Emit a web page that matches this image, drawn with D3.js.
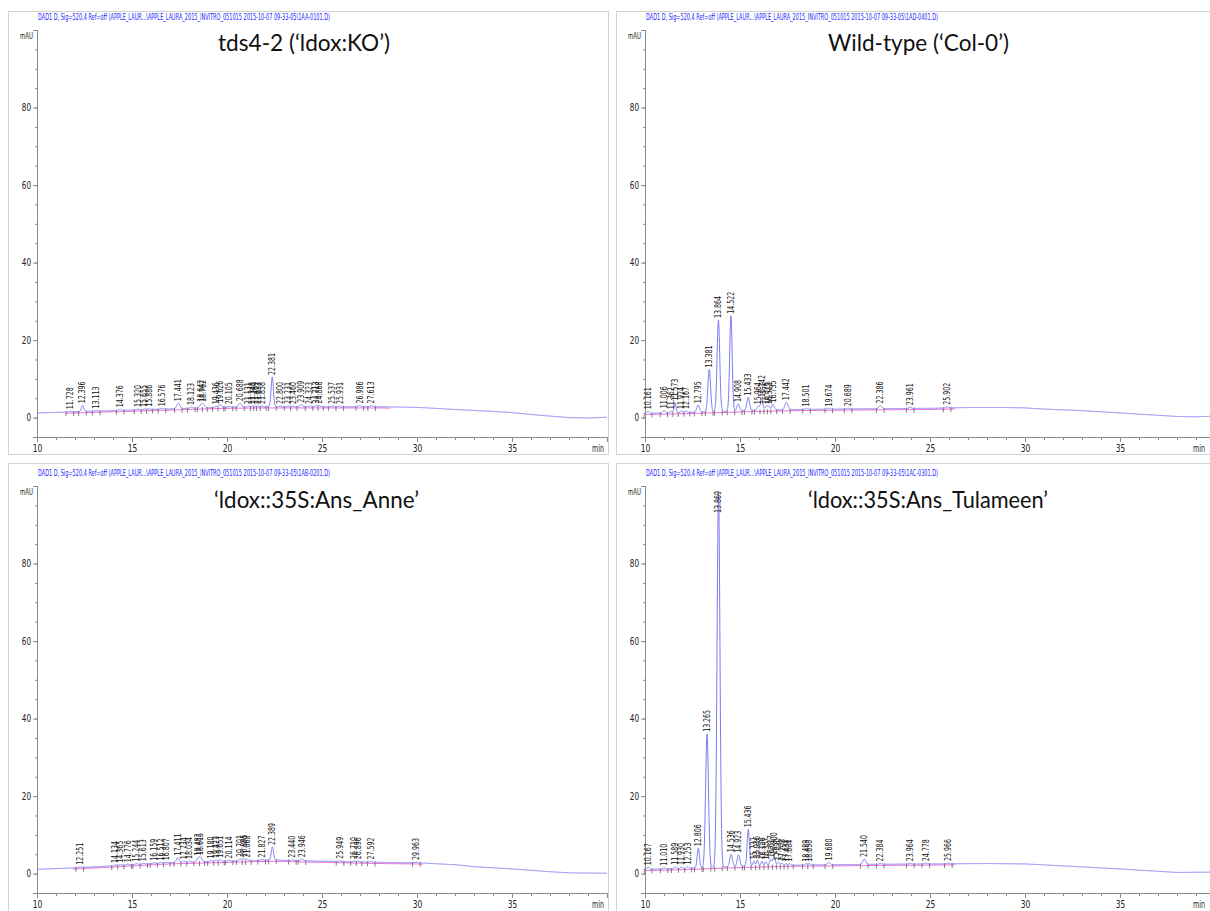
<!DOCTYPE html>
<html>
<head>
<meta charset="utf-8">
<script src="https://cdn.jsdelivr.net/npm/d3@7"></script>
<style>
  html, body { margin: 0; padding: 0; background: #fff; }
  svg { display: block; }
</style>
</head>
<body>
<svg id="chart" width="1210" height="911"></svg>
<script>
// ---- axis ticks ----
const xMajorTicks = [10, 15, 20, 25, 30, 35];
const xMinorTicks = d3.range(10, 41, 1);
const yMajorTicks = [0, 20, 40, 60, 80];
const yMinorTicks = d3.range(-5, 100, 5);

// ---- signal description lines and sample names ----
const headerLines = [
  "DAD1 D, Sig=520,4 Ref=off (APPLE_LAUR...\\APPLE_LAURA_2015_INVITRO_051015 2015-10-07 09-33-05\\1AA-0101.D)",
  "DAD1 D, Sig=520,4 Ref=off (APPLE_LAUR...\\APPLE_LAURA_2015_INVITRO_051015 2015-10-07 09-33-05\\1AD-0401.D)",
  "DAD1 D, Sig=520,4 Ref=off (APPLE_LAUR...\\APPLE_LAURA_2015_INVITRO_051015 2015-10-07 09-33-05\\1AB-0201.D)",
  "DAD1 D, Sig=520,4 Ref=off (APPLE_LAUR...\\APPLE_LAURA_2015_INVITRO_051015 2015-10-07 09-33-05\\1AC-0301.D)"
];
const sampleTitles = [
  "tds4-2 (\u2018ldox:KO\u2019)",
  "Wild-type (\u2018Col-0\u2019)",
  "\u2018ldox::35S:Ans_Anne\u2019",
  "\u2018ldox::35S:Ans_Tulameen\u2019"
];

// ---- tds4-2 (ldox:KO) ----
const koDriftTime  = [10, 12, 14, 16, 18, 20, 22, 25, 28, 30, 32, 34, 35, 36, 37, 38, 39, 40];
const koDriftLevel = [1.2, 1.5, 1.8, 2.1, 2.4, 2.7, 2.8, 2.8, 2.8, 2.65, 2.1, 1.6, 1.3, 0.8, 0.4, 0.0, -0.1, 0.1];
const koPeakRT = ["11.728","12.396","13.113","14.376","15.320","15.655","15.886","16.576","17.441","18.123",
  "18.642","18.762","19.436","19.626","20.105","20.688","21.131","21.348","21.469","21.633","21.858",
  "22.381","22.800","23.231","23.460","23.909","24.323","24.713","24.868","25.537","25.931","26.986","27.613"];
const koPeakHeight = [0.2, 1.6, 0.2, 0.3, 0.2, 0.2, 0.2, 0.2, 1.4, 0.3,
  0.9, 0.8, 0.3, 0.7, 0.2, 1.0, 0.2, 0.2, 0.2, 0.2, 0.2,
  7.7, 0.2, 0.2, 0.2, 0.5, 0.2, 0.3, 0.3, 0.2, 0.2, 0.3, 0.3];
const koPeakWidth = [0.06, 0.06, 0.06, 0.06, 0.06, 0.06, 0.06, 0.06, 0.08, 0.06,
  0.07, 0.07, 0.06, 0.06, 0.06, 0.07, 0.05, 0.05, 0.05, 0.05, 0.05,
  0.06, 0.06, 0.06, 0.06, 0.07, 0.06, 0.06, 0.06, 0.06, 0.06, 0.07, 0.07];
const koIntegration = [11.5, 28.6];

// ---- Wild-type (Col-0) ----
const wtDriftTime  = [10, 12, 14, 16, 18, 20, 22, 25, 27, 29, 30, 31, 33, 35, 36, 37, 38, 39, 40];
const wtDriftLevel = [1.1, 1.3, 1.6, 1.9, 2.1, 2.2, 2.3, 2.4, 2.6, 2.6, 2.5, 2.2, 1.8, 1.2, 0.9, 0.6, 0.3, 0.2, 0.4];
const wtPeakRT = ["10.161","11.006","11.362","11.573","11.924","12.167","12.795","13.381","13.864","14.522",
  "14.908","15.433","15.964","16.142","16.376","16.512","16.735","17.442","18.501","19.674","20.689",
  "22.386","23.961","25.902"];
const wtPeakHeight = [0.5, 0.7, 0.4, 2.6, 0.4, 0.4, 1.8, 10.9, 23.6, 24.6,
  1.8, 3.4, 1.0, 2.9, 1.0, 0.9, 1.4, 1.9, 0.2, 0.2, 0.2,
  0.8, 0.3, 0.3];
const wtPeakWidth = [0.06, 0.06, 0.05, 0.05, 0.05, 0.05, 0.07, 0.07, 0.07, 0.065,
  0.07, 0.07, 0.06, 0.06, 0.06, 0.06, 0.07, 0.08, 0.06, 0.06, 0.06,
  0.07, 0.06, 0.06];
const wtIntegration = [10.0, 26.3];

// ---- ldox::35S:Ans_Anne ----
const anneDriftTime  = [10, 12, 14, 15, 17, 20, 22.5, 25, 28, 30, 32, 33, 35, 37, 38, 40];
const anneDriftLevel = [1.1, 1.5, 2.0, 2.3, 2.8, 3.2, 3.5, 3.2, 2.9, 2.8, 2.3, 1.8, 1.2, 0.5, 0.2, 0.1];
const annePeakRT = ["12.251","14.134","14.365","14.776","15.244","15.613","16.159","16.512","16.807","17.411",
  "17.734","18.034","18.482","18.615","19.180","19.423","19.651","20.114","20.701","20.895","21.068",
  "21.827","22.389","23.440","23.946","25.949","26.710","26.896","27.592","29.963"];
const annePeakHeight = [0.2, 0.2, 0.2, 0.2, 0.2, 0.2, 0.2, 0.2, 0.2, 1.3,
  0.3, 0.3, 1.0, 1.1, 0.3, 0.4, 0.4, 0.2, 0.5, 0.5, 0.3,
  0.2, 3.4, 0.2, 0.4, 0.2, 0.2, 0.2, 0.2, 0.2];
const annePeakWidth = [0.06, 0.06, 0.06, 0.06, 0.06, 0.06, 0.06, 0.06, 0.06, 0.07,
  0.06, 0.06, 0.07, 0.07, 0.06, 0.06, 0.06, 0.06, 0.07, 0.07, 0.06,
  0.06, 0.06, 0.06, 0.07, 0.06, 0.06, 0.06, 0.06, 0.06];
const anneIntegration = [11.9, 30.3];

// ---- ldox::35S:Ans_Tulameen ----
const tulDriftTime  = [10, 12, 14, 16, 18, 20, 22, 25, 28, 30, 32, 35, 37, 38, 40];
const tulDriftLevel = [1.1, 1.3, 1.7, 2.0, 2.2, 2.3, 2.4, 2.5, 2.6, 2.5, 2.0, 1.2, 0.6, 0.3, 0.4];
const tulPeakRT = ["10.167","11.010","11.589","11.930","12.253","12.806","13.265","13.869","14.536","14.923",
  "15.436","15.732","15.916","16.156","16.357","16.617","16.800","17.030","17.208","17.434","17.604",
  "18.489","18.650","19.680","21.540","22.384","23.964","24.778","25.966"];
const tulPeakHeight = [0.5, 0.3, 0.5, 0.4, 0.5, 5.1, 34.5, 96.5, 3.2, 3.0,
  9.5, 1.2, 1.5, 1.2, 1.0, 1.6, 2.4, 0.8, 0.6, 0.4, 0.4,
  0.3, 0.3, 0.6, 1.4, 0.2, 0.2, 0.2, 0.2];
const tulPeakWidth = [0.06, 0.06, 0.05, 0.05, 0.05, 0.06, 0.075, 0.075, 0.07, 0.07,
  0.06, 0.05, 0.05, 0.05, 0.05, 0.06, 0.06, 0.05, 0.05, 0.05, 0.05,
  0.06, 0.06, 0.07, 0.07, 0.06, 0.06, 0.06, 0.06];
const tulIntegration = [10.0, 26.3];

// ---- page layout ----
const panels = [
  { left: 37,  top: 30,  bottom: 437, frame: [8, 11, 601, 444],   headerY: 20,  titleX: 218, titleY: 51,  titleW: 172,
    drift: [koDriftTime, koDriftLevel], rt: koPeakRT, h: koPeakHeight, w: koPeakWidth, integ: koIntegration },
  { left: 645, top: 30,  bottom: 437, frame: [616, 11, 600, 444], headerY: 20,  titleX: 828, titleY: 51,  titleW: 181,
    drift: [wtDriftTime, wtDriftLevel], rt: wtPeakRT, h: wtPeakHeight, w: wtPeakWidth, integ: wtIntegration },
  { left: 37,  top: 486, bottom: 893, frame: [8, 463, 601, 452],  headerY: 476, titleX: 214, titleY: 508, titleW: 205,
    drift: [anneDriftTime, anneDriftLevel], rt: annePeakRT, h: annePeakHeight, w: annePeakWidth, integ: anneIntegration },
  { left: 645, top: 486, bottom: 893, frame: [616, 463, 600, 452], headerY: 476, titleX: 808, titleY: 508, titleW: 240,
    drift: [tulDriftTime, tulDriftLevel], rt: tulPeakRT, h: tulPeakHeight, w: tulPeakWidth, integ: tulIntegration }
];

const smallFont = "'Liberation Sans Narrow', 'DejaVu Sans Condensed', 'Liberation Sans', Arial, sans-serif";
const traceColor = "#7c7cf0";
const baselineColor = "#f06ad6";
const axisColor = "#8a8a8a";

const svg = d3.select("#chart");

panels.forEach((p, i) => {
  const g = svg.append("g");
  const [fx, fy, fw, fh] = p.frame;

  const clipId = "clip" + i;
  svg.append("clipPath").attr("id", clipId)
    .append("rect").attr("x", fx).attr("y", fy).attr("width", fw).attr("height", fh);
  g.attr("clip-path", `url(#${clipId})`);

  // frame
  g.append("rect").attr("x", fx + 0.5).attr("y", fy + 0.5).attr("width", fw - 1).attr("height", fh - 1)
    .attr("fill", "#fff").attr("stroke", "#d2d2d2").attr("stroke-width", 1);

  const x = d3.scaleLinear().domain([10, 40]).range([p.left, p.left + 570]);
  const y = d3.scaleLinear().domain([-5, 100]).range([p.bottom, p.top]);
  const rightEdge = Math.min(fx + fw, 1210) - 5;

  // header line
  g.append("text").attr("x", p.left + 1).attr("y", p.headerY)
    .attr("font-family", smallFont).attr("font-size", 8.5).attr("fill", "#2525ff")
    .attr("textLength", 292).attr("lengthAdjust", "spacingAndGlyphs")
    .text(headerLines[i]);

  // sample name
  g.append("text").attr("x", p.titleX).attr("y", p.titleY)
    .attr("font-family", "Lato, 'Open Sans', sans-serif").attr("font-size", 24).attr("fill", "#111")
    .attr("textLength", p.titleW).attr("lengthAdjust", "spacingAndGlyphs")
    .text(sampleTitles[i]);

  // y axis
  const yMinor = d3.axisLeft(y).tickValues(yMinorTicks).tickSize(2).tickFormat("");
  const yMajor = d3.axisLeft(y).tickValues(yMajorTicks).tickSize(4).tickPadding(2).tickFormat(d3.format("d"));
  [yMinor, yMajor].forEach(ax => {
    const a = g.append("g").attr("transform", `translate(${p.left},0)`).call(ax);
    a.select(".domain").attr("stroke", axisColor);
    a.selectAll(".tick line").attr("stroke", axisColor);
    a.selectAll("text").attr("font-family", smallFont).attr("font-size", 10).attr("fill", "#222")
      .attr("textLength", d => String(d).length * 4.6).attr("lengthAdjust", "spacingAndGlyphs");
  });
  g.append("text").attr("x", p.left - 4).attr("y", p.top + 9)
    .attr("text-anchor", "end").attr("font-family", smallFont).attr("font-size", 8.5).attr("fill", "#222")
    .attr("textLength", 13).attr("lengthAdjust", "spacingAndGlyphs").text("mAU");

  // x axis
  const xMinor = d3.axisBottom(x).tickValues(xMinorTicks).tickSize(3).tickFormat("");
  const xMajor = d3.axisBottom(x).tickValues(xMajorTicks).tickSize(5).tickPadding(3).tickFormat(d3.format("d"));
  [xMinor, xMajor].forEach(ax => {
    const a = g.append("g").attr("transform", `translate(0,${p.bottom})`).call(ax);
    a.select(".domain").attr("stroke", axisColor);
    a.selectAll(".tick line").attr("stroke", axisColor);
    a.selectAll("text").attr("font-family", smallFont).attr("font-size", 10).attr("fill", "#222")
      .attr("textLength", d => String(d).length * 4.8).attr("lengthAdjust", "spacingAndGlyphs");
  });
  // unit label at the end of the time axis, kept inside the frame
  g.append("text").attr("x", Math.min(x(40) + 3, rightEdge)).attr("y", p.bottom + 8).attr("dy", "0.71em")
    .attr("text-anchor", "end").attr("font-family", smallFont).attr("font-size", 10).attr("fill", "#222")
    .attr("textLength", 12).attr("lengthAdjust", "spacingAndGlyphs").text("min");

  // chromatogram signal: drift plus the integrated peaks
  const drift = d3.scaleLinear().domain(p.drift[0]).range(p.drift[1]).clamp(true);
  const peaks = p.rt.map((label, k) => ({ label, rt: +label, h: p.h[k], w: p.w[k] }));
  const signal = t => drift(t) + d3.sum(peaks, pk => pk.h * Math.exp(-0.5 * ((t - pk.rt) / pk.w) ** 2));

  // integration baseline
  const baseT = d3.range(p.integ[0], p.integ[1] + 1e-9, 0.1);
  g.append("path")
    .attr("d", d3.line().x(t => x(t)).y(t => y(drift(t) - 0.3))(baseT))
    .attr("fill", "none").attr("stroke", baselineColor).attr("stroke-width", 1);

  // peak start/stop marks
  const marks = [];
  peaks.forEach((pk, k) => {
    const prev = peaks[k - 1], next = peaks[k + 1];
    if (!prev || pk.rt - prev.rt > 0.45) marks.push(pk.rt - 0.2);
    if (next && next.rt - pk.rt <= 0.45) marks.push((pk.rt + next.rt) / 2);
    else marks.push(pk.rt + 0.2);
  });
  g.append("g").selectAll("line").data(marks).join("line")
    .attr("x1", t => x(t)).attr("x2", t => x(t))
    .attr("y1", t => y(drift(t) - 0.3) - 2).attr("y2", t => y(drift(t) - 0.3) + 3)
    .attr("stroke", "#6a5a6a").attr("stroke-width", 0.8);

  // detector trace
  const times = d3.range(10, 40.0001, 0.01);
  g.append("path")
    .attr("d", d3.line().x(t => x(t)).y(t => y(signal(t)))(times))
    .attr("fill", "none").attr("stroke", traceColor).attr("stroke-width", 1);

  // retention time labels
  const labelLen = 22;
  g.append("g").selectAll("text").data(peaks).join("text")
    .attr("transform", pk => {
      let yb = y(signal(pk.rt)) - 2;
      if (yb - labelLen < p.top + 5) yb = p.top + 5 + labelLen;
      return `translate(${x(pk.rt)},${yb}) rotate(-90)`;
    })
    .attr("dy", "0.35em")
    .attr("font-family", smallFont).attr("font-size", 8).attr("fill", "#111")
    .attr("textLength", labelLen).attr("lengthAdjust", "spacingAndGlyphs")
    .text(pk => pk.label);
});
</script>
</body>
</html>
